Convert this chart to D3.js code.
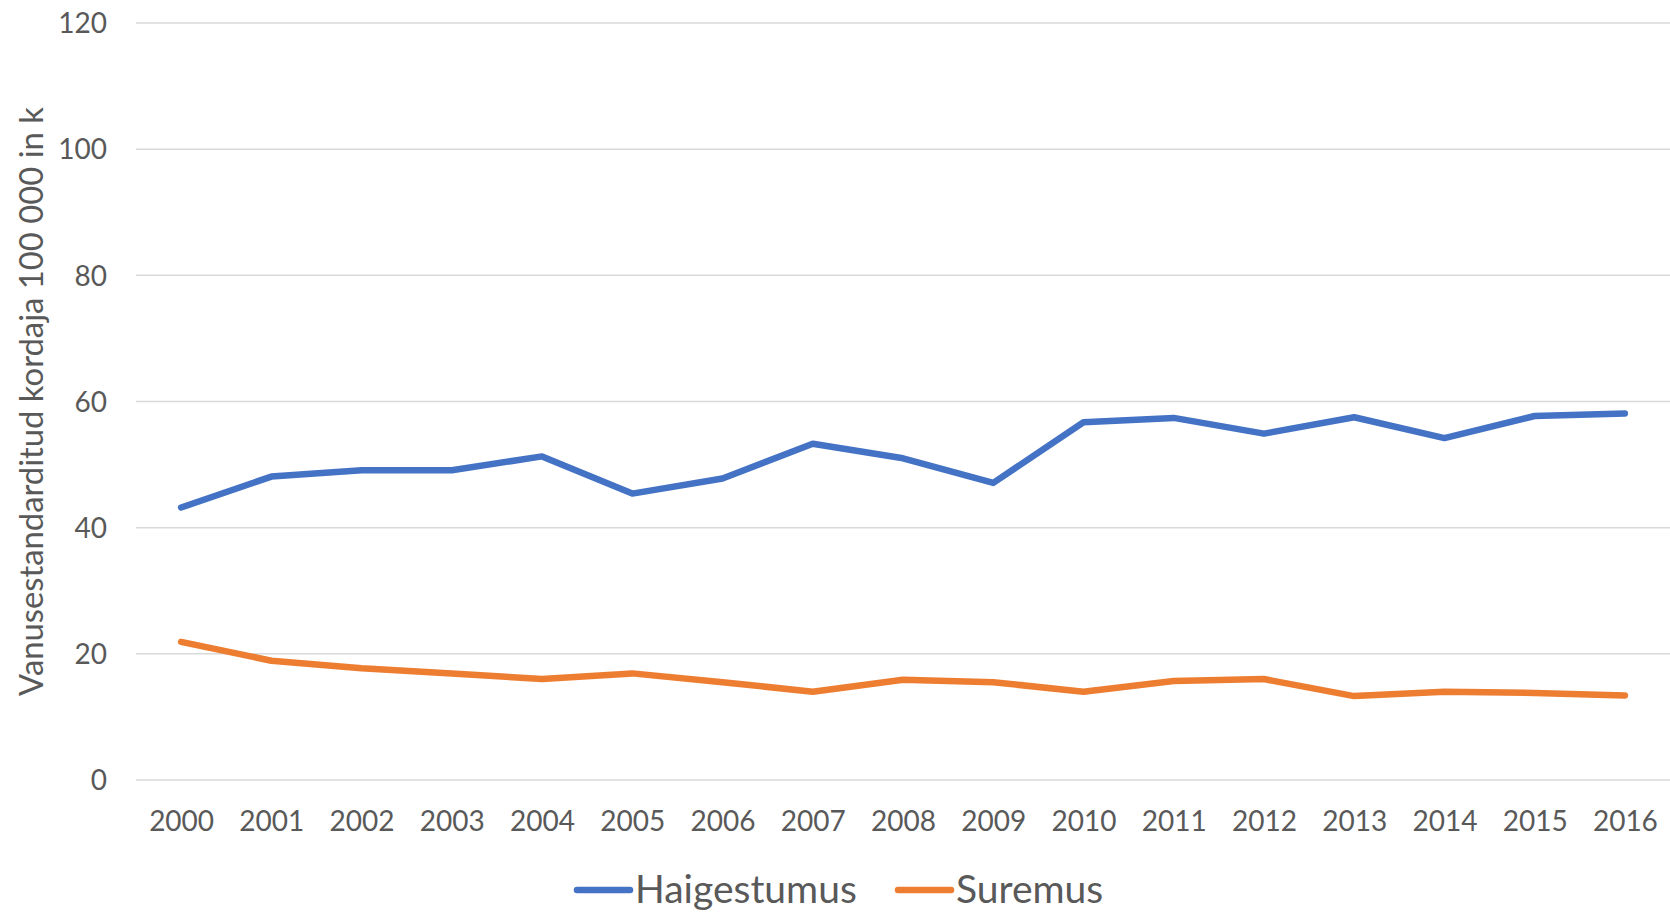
<!DOCTYPE html>
<html>
<head>
<meta charset="utf-8">
<script src="https://cdn.jsdelivr.net/npm/d3@7"></script>
<style>
  html, body { margin: 0; padding: 0; background: #fff; }
  svg { display: block; }
  text { font-family: Lato, "Open Sans", sans-serif; fill: #595959; }
</style>
</head>
<body>
<svg id="chart" width="1670" height="914"></svg>
<script>
// Age-standardised rates per 100 000, 2000–2016
const years = ["2000","2001","2002","2003","2004","2005","2006","2007","2008",
               "2009","2010","2011","2012","2013","2014","2015","2016"];
const haigestumus = [43.2, 48.1, 49.1, 49.1, 51.3, 45.4, 47.8, 53.3, 51.0,
                     47.1, 56.7, 57.4, 54.9, 57.5, 54.2, 57.7, 58.1];
const suremus = [21.9, 18.9, 17.7, 16.9, 16.0, 16.9, 15.5, 14.0, 15.9,
                 15.5, 14.0, 15.7, 16.0, 13.3, 14.0, 13.8, 13.4];
const yTicks = [0, 20, 40, 60, 80, 100, 120];
const seriesNames = ["Haigestumus", "Suremus"];
const seriesColors = ["#4472C4", "#ED7D31"];
const yTitle = "Vanusestandarditud kordaja 100 000 in k";

const svg = d3.select("#chart");
const plot = { left: 136, right: 1670, top: 23, bottom: 780 };

const x = d3.scalePoint().domain(years).range([plot.left, plot.right]).padding(0.5);
const y = d3.scaleLinear().domain([0, 120]).range([plot.bottom, plot.top]);

// horizontal gridlines
svg.append("g")
  .selectAll("line")
  .data(yTicks)
  .join("line")
  .attr("x1", plot.left).attr("x2", plot.right)
  .attr("y1", d => y(d)).attr("y2", d => y(d))
  .attr("stroke", "#D9D9D9").attr("stroke-width", 1.5);

// y axis labels
const yAxis = svg.append("g")
  .attr("transform", `translate(${plot.left},0)`)
  .call(d3.axisLeft(y).tickValues(yTicks).tickSize(0).tickPadding(29));
yAxis.select(".domain").remove();
yAxis.selectAll("text").attr("font-size", 28).attr("dy", "0.35em")
  .style("font-family", "Lato, sans-serif").attr("fill", "#595959");

// x axis labels
const xAxis = svg.append("g")
  .attr("transform", `translate(0,${plot.bottom})`)
  .call(d3.axisBottom(x).tickSize(0).tickPadding(41));
xAxis.select(".domain").remove();
xAxis.selectAll("text").attr("font-size", 28).attr("dy", "0.35em")
  .style("font-family", "Lato, sans-serif").attr("fill", "#595959");

// y axis title
svg.append("text")
  .attr("transform", `translate(43,${(plot.top + plot.bottom) / 2}) rotate(-90)`)
  .attr("text-anchor", "middle")
  .attr("font-size", 32.8)
  .text(yTitle);

// series lines
const line = d3.line().x((d, i) => x(years[i])).y(d => y(d));
[haigestumus, suremus].forEach((vals, k) => {
  svg.append("path")
    .datum(vals)
    .attr("d", line)
    .attr("fill", "none")
    .attr("stroke", seriesColors[k])
    .attr("stroke-width", 6.5)
    .attr("stroke-linejoin", "round")
    .attr("stroke-linecap", "round");
});

// legend
const legend = svg.append("g");
const legendX = [577, 898];
seriesNames.forEach((name, k) => {
  const g = legend.append("g").attr("transform", `translate(${legendX[k]},890)`);
  g.append("line").attr("x1", 0).attr("x2", 53).attr("y1", 0).attr("y2", 0)
    .attr("stroke", seriesColors[k]).attr("stroke-width", 6.5).attr("stroke-linecap", "round");
  g.append("text").attr("x", 58).attr("y", 13).attr("font-size", 39).text(name);
});
</script>
</body>
</html>
